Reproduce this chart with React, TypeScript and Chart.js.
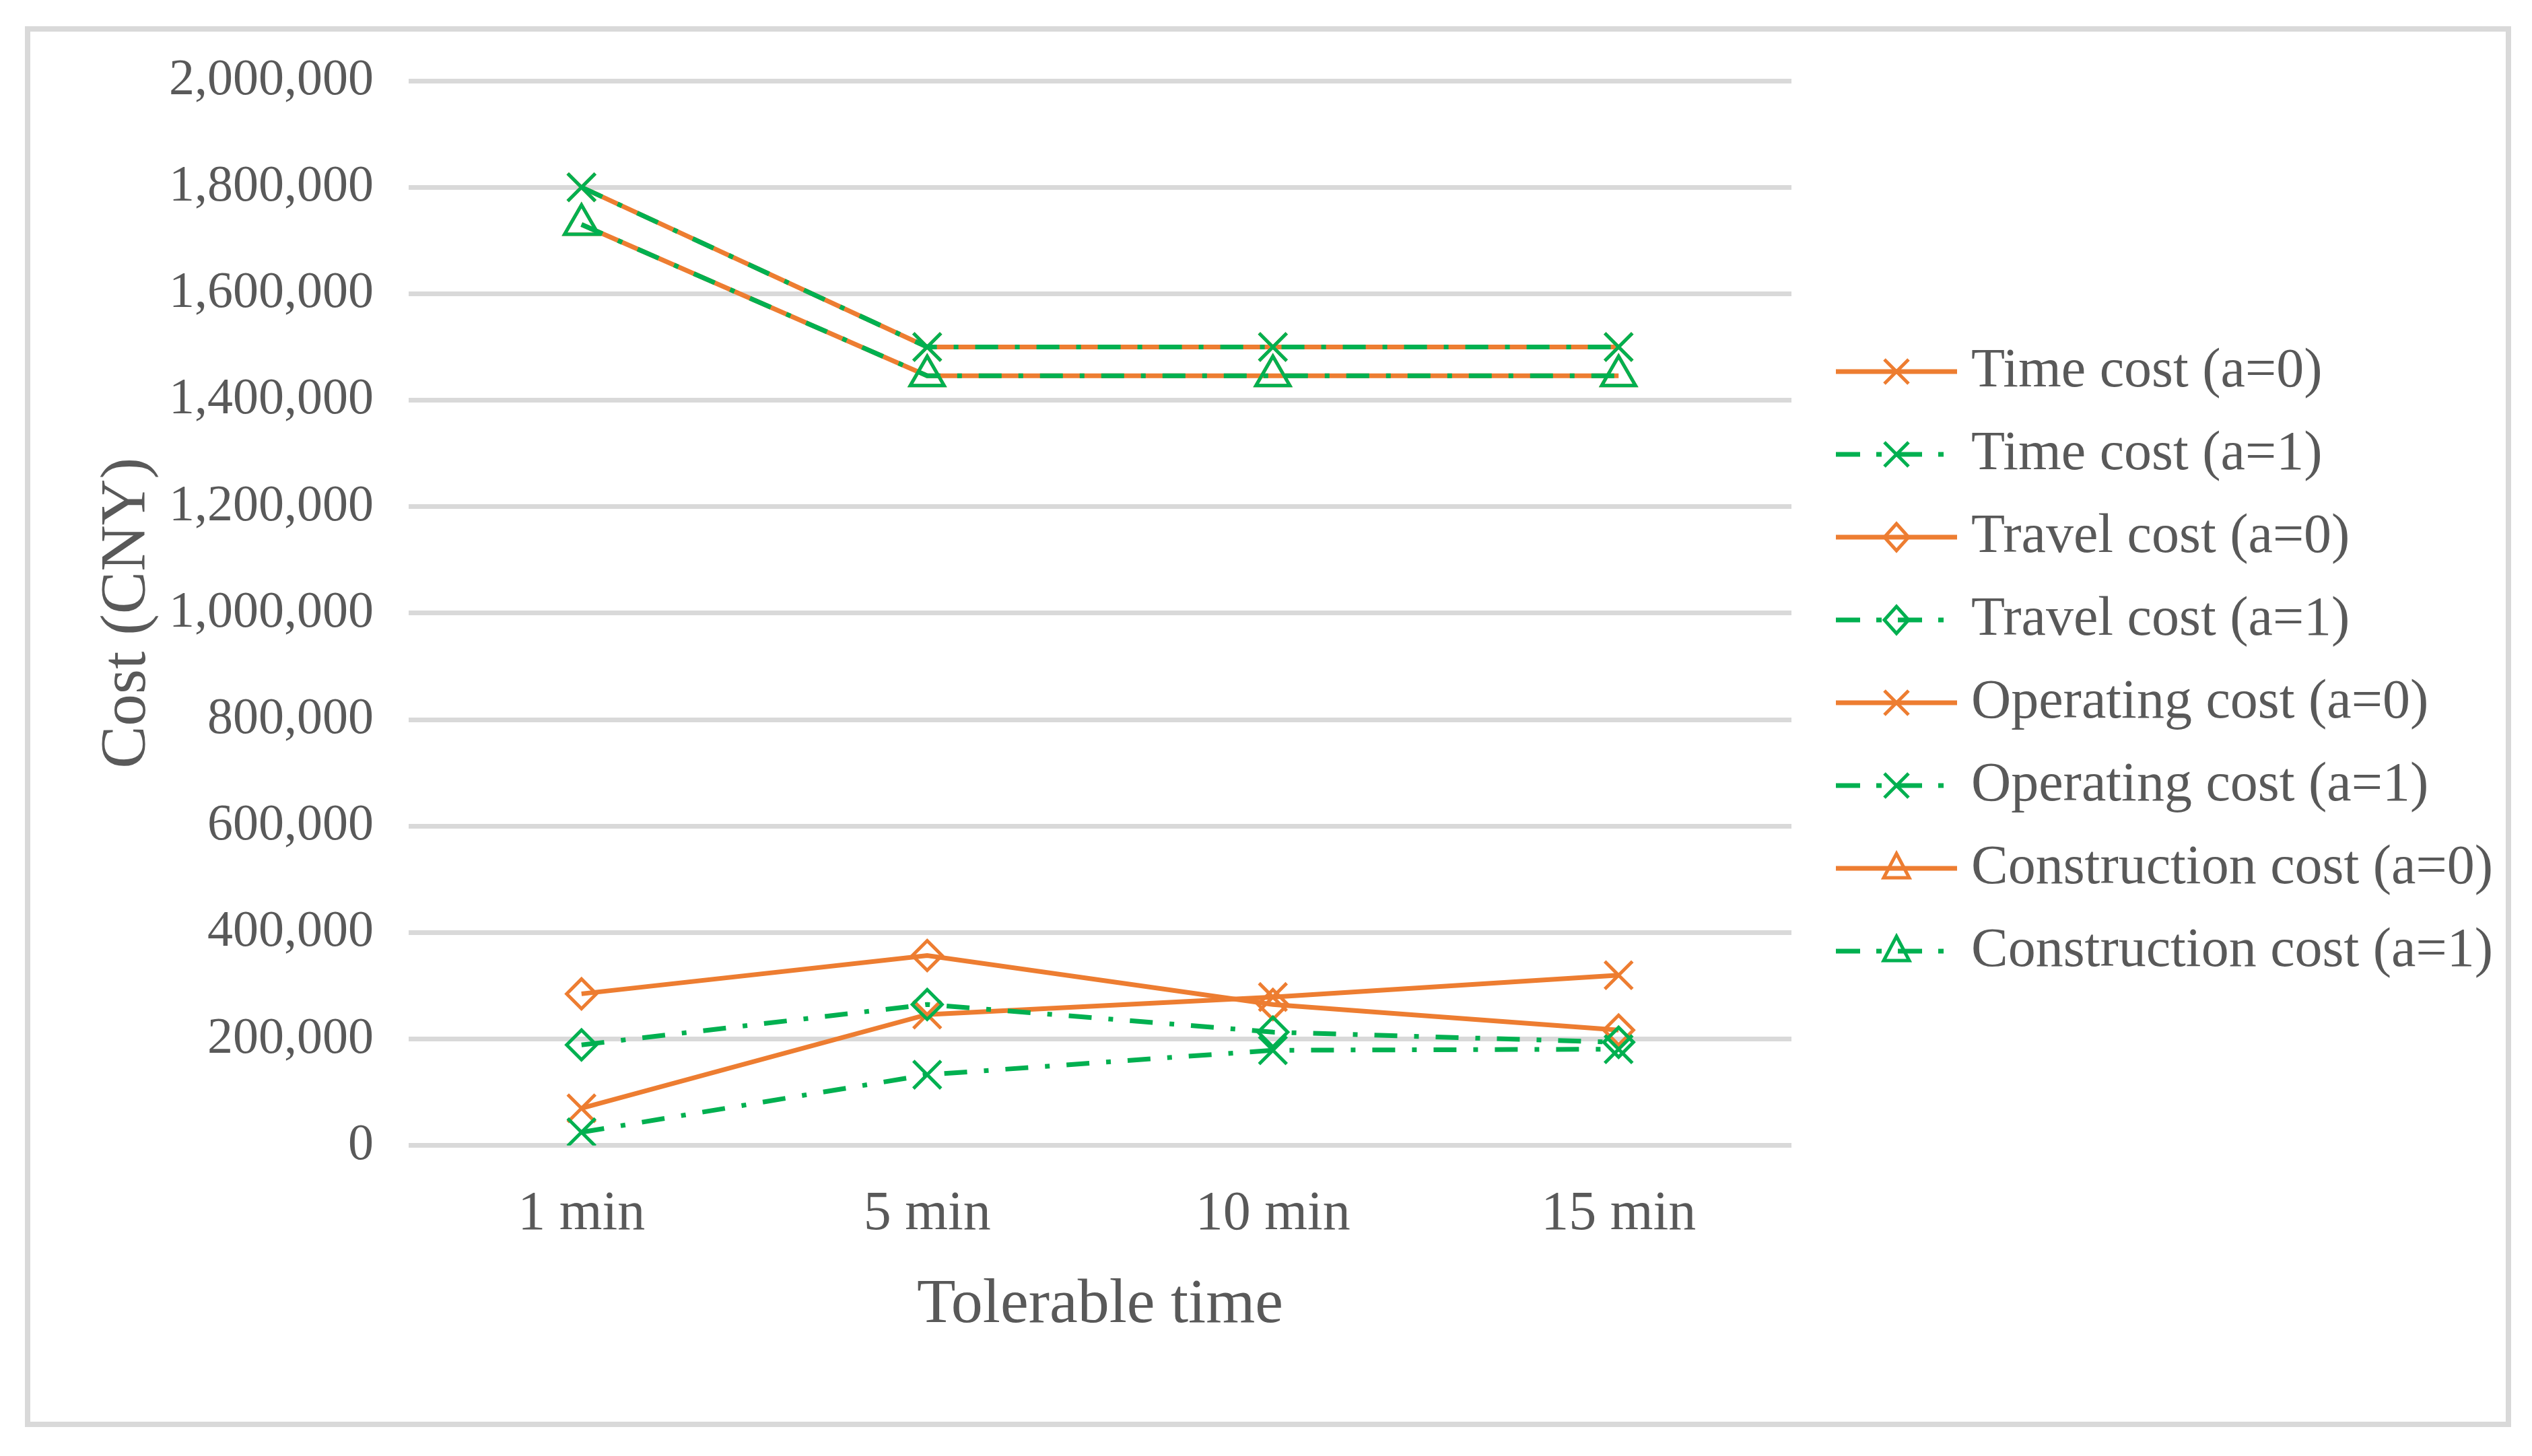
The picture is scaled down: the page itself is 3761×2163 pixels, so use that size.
import React, { useEffect, useRef } from "react";
import { Chart, registerables } from "chart.js";

Chart.register(...registerables);

const categories = ["1 min", "5 min", "10 min", "15 min"];
const timeCostA0 = [1800000, 1500000, 1500000, 1500000];
const timeCostA1 = [1800000, 1500000, 1500000, 1500000];
const travelCostA0 = [285000, 357000, 265000, 217000];
const travelCostA1 = [189000, 265000, 213000, 194000];
const operatingCostA0 = [70000, 246000, 279000, 320000];
const operatingCostA1 = [25000, 133000, 179000, 181000];
const constructionCostA0 = [1730000, 1446000, 1446000, 1446000];
const constructionCostA1 = [1730000, 1446000, 1446000, 1446000];
const seriesLabels = [
  "Time cost (a=0)",
  "Time cost (a=1)",
  "Travel cost (a=0)",
  "Travel cost (a=1)",
  "Operating cost (a=0)",
  "Operating cost (a=1)",
  "Construction cost (a=0)",
  "Construction cost (a=1)",
];
const yTicks = { min: 0, max: 2000000, step: 200000 };

const ORANGE = "#ED7D31";
const GREEN = "#00B050";
const TEXT = "#595959";
const GRID = "#d9d9d9";
const FONT = "'Liberation Serif', 'Times New Roman', serif";
const LEGEND_WIDTH = 1052;

type Shape = "x" | "diamond" | "triangle";

function makeLegendImage(color: string, dashed: boolean, shape: Shape) {
  const c = document.createElement("canvas");
  c.width = 225;
  c.height = 80;
  const ctx = c.getContext("2d")!;
  const cy = 40;
  const cx = 135;
  ctx.strokeStyle = color;
  ctx.lineWidth = 7;
  ctx.lineCap = "butt";
  if (dashed) ctx.setLineDash([36, 24, 8, 24]);
  ctx.beginPath();
  ctx.moveTo(45, cy);
  ctx.lineTo(225, cy);
  ctx.stroke();
  ctx.setLineDash([]);
  ctx.lineWidth = 5;
  ctx.beginPath();
  if (shape === "x") {
    const h = 18;
    ctx.moveTo(cx - h, cy - h);
    ctx.lineTo(cx + h, cy + h);
    ctx.moveTo(cx + h, cy - h);
    ctx.lineTo(cx - h, cy + h);
  } else if (shape === "diamond") {
    ctx.moveTo(cx, cy - 20);
    ctx.lineTo(cx + 18, cy);
    ctx.lineTo(cx, cy + 20);
    ctx.lineTo(cx - 18, cy);
    ctx.closePath();
  } else {
    ctx.moveTo(cx, cy - 22);
    ctx.lineTo(cx + 19, cy + 14);
    ctx.lineTo(cx - 19, cy + 14);
    ctx.closePath();
  }
  ctx.stroke();
  return c;
}

const legendWidthPlugin = {
  id: "legendFixedWidth",
  beforeLayout(chart: any) {
    const lg = chart.legend;
    if (lg && !lg.__fixedWidth) {
      const orig = lg.fit.bind(lg);
      lg.fit = () => {
        orig();
        lg.width = LEGEND_WIDTH;
      };
      lg.__fixedWidth = true;
    }
  },
};

export default function App() {
  const ref = useRef<HTMLCanvasElement>(null);

  useEffect(() => {
    if (!ref.current) return;
    const values = [
      timeCostA0,
      timeCostA1,
      travelCostA0,
      travelCostA1,
      operatingCostA0,
      operatingCostA1,
      constructionCostA0,
      constructionCostA1,
    ];
    const shapes: Shape[] = ["x", "x", "diamond", "diamond", "x", "x", "triangle", "triangle"];
    const chartStyle: Record<Shape, { style: string; r: number }> = {
      x: { style: "crossRot", r: 29 },
      diamond: { style: "rectRot", r: 22 },
      triangle: { style: "triangle", r: 29 },
    };
    const images = values.map((_, i) => {
      const dashed = i % 2 === 1;
      return makeLegendImage(dashed ? GREEN : ORANGE, dashed, shapes[i]);
    });

    const datasets = values.map((data, i) => {
      const dashed = i % 2 === 1;
      const color = dashed ? GREEN : ORANGE;
      const s = chartStyle[shapes[i]];
      return {
        label: seriesLabels[i],
        data,
        borderColor: color,
        backgroundColor: color,
        borderWidth: 7,
        borderDash: dashed ? [34, 25, 7, 25] : [],
        borderCapStyle: "butt" as const,
        pointStyle: s.style as any,
        pointRadius: s.r,
        pointBorderColor: color,
        pointBorderWidth: 5,
        pointBackgroundColor: "rgba(0,0,0,0)",
        fill: false,
        tension: 0,
        order: dashed ? 0 : 1,
      };
    });

    const chart = new Chart(ref.current, {
      type: "line",
      data: { labels: categories, datasets },
      plugins: [legendWidthPlugin as any],
      options: {
        animation: false,
        responsive: false,
        devicePixelRatio: 1,
        events: [],
        layout: { padding: { top: 73, left: 88, right: 9, bottom: 93 } },
        plugins: {
          tooltip: { enabled: false },
          legend: {
            position: "right",
            align: "start",
            title: {
              display: true,
              text: " ",
              padding: { top: 0, bottom: 338 },
              font: { size: 10, family: FONT },
            },
            labels: {
              usePointStyle: true,
              pointStyleWidth: 185,
              padding: 41,
              color: TEXT,
              font: { size: 82, family: FONT },
              generateLabels: (ch: any) =>
                ch.data.datasets.map((ds: any, i: number) => ({
                  text: ds.label,
                  datasetIndex: i,
                  pointStyle: images[i],
                  fillStyle: "rgba(0,0,0,0)",
                  strokeStyle: "rgba(0,0,0,0)",
                  lineWidth: 0,
                  hidden: false,
                  fontColor: TEXT,
                })),
              sort: (a: any, b: any) => a.datasetIndex - b.datasetIndex,
            },
          },
        },
        scales: {
          x: {
            type: "category",
            offset: true,
            grid: { display: false, drawTicks: false },
            border: { display: false },
            ticks: { padding: 53, color: TEXT, font: { size: 82, family: FONT } },
            title: {
              display: true,
              text: "Tolerable time",
              color: TEXT,
              font: { size: 94, family: FONT },
              padding: { top: -23, bottom: 23 },
            },
          },
          y: {
            min: yTicks.min,
            max: yTicks.max,
            grid: {
              color: GRID,
              lineWidth: 7,
              drawTicks: true,
              tickLength: 52,
              tickColor: "rgba(0,0,0,0)",
            },
            border: { display: false },
            ticks: {
              stepSize: yTicks.step,
              padding: 0,
              color: TEXT,
              font: { size: 76, family: FONT },
              callback: (v: any) => Number(v).toLocaleString("en-US"),
            },
            title: {
              display: true,
              text: "Cost (CNY)",
              color: TEXT,
              font: { size: 95, family: FONT },
              padding: { top: 0, bottom: 4 },
            },
          },
        },
      },
    });
    return () => chart.destroy();
  }, []);

  return (
    <div style={{ padding: "31px 0 0 29px" }}>
      <div
        style={{
          width: 3677,
          height: 2065,
          border: "8px solid #d9d9d9",
          background: "#fff",
        }}
      >
        <canvas ref={ref} width={3677} height={2065} style={{ display: "block", width: 3677, height: 2065 }} />
      </div>
    </div>
  );
}
